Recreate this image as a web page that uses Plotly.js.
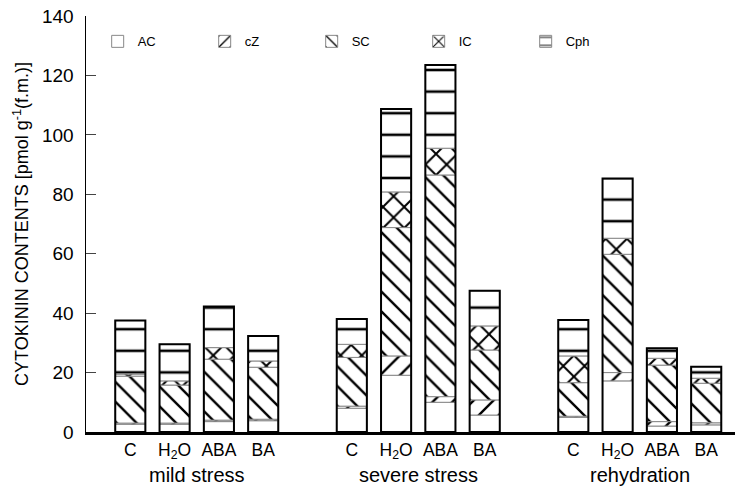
<!DOCTYPE html>
<html>
<head>
<meta charset="utf-8">
<script src="https://cdn.plot.ly/plotly-3.0.1.min.js"></script>
<style>html,body{margin:0;padding:0;background:#fff;}#chart{width:740px;height:488px;}</style>
</head>
<body>
<div id="chart"></div>
<script>
// Data (pmol g-1 f.m.)
var groups = ['mild stress', 'severe stress', 'rehydration'];
var treatments = ['C', 'H<sub>2</sub>O', 'ABA', 'BA'];
var AC  = [2.6, 2.6, 3.5, 3.8,   8.0, 19.1, 10.0, 5.7,   4.9, 17.2, 2.0, 2.4];
var cZ  = [0.4, 0.4, 0.5, 0.5,   0.7, 6.5, 1.9, 5.1,     0.4, 2.8, 1.5, 0.7];
var SC  = [15.8, 12.8, 20.5, 17.5, 16.4, 43.2, 74.6, 16.8, 11.3, 39.8, 19.0, 13.3];
var IC  = [0.7, 1.4, 3.9, 2.1,   4.4, 12.0, 9.0, 8.1,    9.0, 5.4, 2.3, 1.7];
var Cph = [18.0, 12.3, 13.8, 8.4, 8.5, 27.9, 28.0, 11.8, 12.1, 20.1, 3.4, 3.9];
var yTicks = [0, 20, 40, 60, 80, 100, 120, 140];

var series = [
  {name: 'AC', vals: AC, shape: '', size: 0, solidity: 0},
  {name: 'cZ', vals: cZ, shape: '/', size: 14, solidity: 0.17},
  {name: 'SC', vals: SC, shape: '\\', size: 14, solidity: 0.17},
  {name: 'IC', vals: IC, shape: 'x', size: 15, solidity: 0.25},
  {name: 'Cph', vals: Cph, shape: '-', size: 21.6, solidity: 0.12}
];

var n = AC.length, per = treatments.length, gap = per + 1;
var xpos = [], ticktext = [];
for (var k = 0; k < n; k++) {
  xpos.push(Math.floor(k / per) * gap + (k % per));
  ticktext.push(treatments[k % per]);
}

var base = new Array(n).fill(0);
var traces = [];
series.forEach(function (s) {
  var b = base.slice();
  var marker = {color: '#ffffff', opacity: 1, line: {color: '#888', width: 1}};
  if (s.shape) {
    marker.pattern = {shape: s.shape, fgcolor: '#000000', fgopacity: 1, bgcolor: '#ffffff',
      size: s.size, solidity: s.solidity, fillmode: 'replace'};
  }
  traces.push({type: 'bar', name: s.name, x: xpos, y: s.vals, base: b, opacity: 1,
    width: 0.68, marker: marker, hoverinfo: 'skip'});
  for (var i = 0; i < n; i++) base[i] += s.vals[i];
});
// outer outline of each total bar
traces.push({type: 'bar', x: xpos, y: base, base: new Array(n).fill(0), width: 0.68,
  showlegend: false, hoverinfo: 'skip', opacity: 1,
  marker: {color: 'rgba(0,0,0,0)', line: {color: '#000', width: 2}}});

var annotations = groups.map(function (g, gi) {
  return {text: g, x: gi * gap + (per - 1) / 2, xref: 'x', y: 0, yref: 'paper',
    yanchor: 'top', yshift: -30, showarrow: false, font: {size: 20, color: '#000'}};
});

var layout = {
  width: 740, height: 488,
  margin: {l: 86, r: 5, t: 16, b: 56},
  paper_bgcolor: '#fff', plot_bgcolor: '#fff',
  font: {family: '"Liberation Sans", Arial, sans-serif', color: '#000'},
  barmode: 'overlay',
  showlegend: true,
  legend: {orientation: 'h', x: 0.018, y: 0.975, xanchor: 'left', yanchor: 'top',
    entrywidth: 62, entrywidthmode: 'pixels', font: {size: 13}, bgcolor: 'rgba(0,0,0,0)',
    traceorder: 'normal'},
  xaxis: {range: [-1, 13.65], tickvals: xpos, ticktext: ticktext, ticks: '',
    showgrid: false, zeroline: false, showline: true, linecolor: '#000', linewidth: 2.5,
    tickfont: {size: 17.5}, fixedrange: true},
  yaxis: {range: [0, 140], tickvals: yTicks, ticks: 'inside', ticklen: 10, tickwidth: 1,
    showgrid: false, zeroline: false, showline: true, linecolor: '#000', linewidth: 1.5,
    tickfont: {size: 19}, ticklabelstandoff: 7,
    title: {text: 'CYTOKININ CONTENTS [pmol g<sup>-1</sup>(f.m.)]', font: {size: 18}, standoff: 8}},
  annotations: annotations
};

Plotly.newPlot('chart', traces, layout, {displayModeBar: false, staticPlot: true});
</script>
</body>
</html>
